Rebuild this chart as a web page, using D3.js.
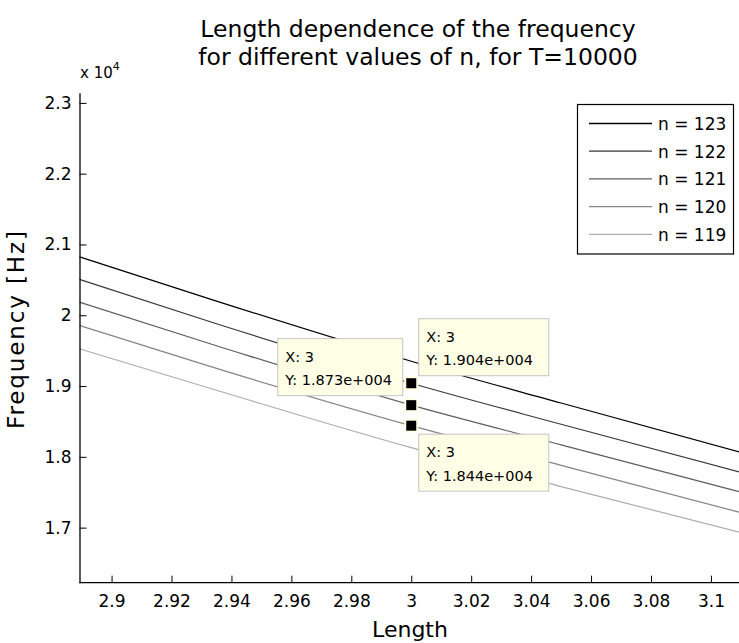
<!DOCTYPE html>
<html>
<head>
<meta charset="utf-8">
<script src="https://cdn.jsdelivr.net/npm/d3@7"></script>
<style>
  body { margin: 0; background: #fff; }
  svg { display: block; }
  text { font-family: "DejaVu Sans", "Liberation Sans", sans-serif; fill: #000; }
</style>
</head>
<body>
<svg id="chart" width="739" height="643"></svg>
<script>
// String length L (x) and frequency in Hz (y) for each mode number n
const lengths  = [2.889, 2.935, 3.0, 3.05, 3.111];
const freqN123 = [20830, 20200, 19350, 18760, 18050];
const freqN122 = [20510, 19880, 19040, 18460, 17770];
const freqN121 = [20190, 19570, 18730, 18170, 17490];
const freqN120 = [19860, 19250, 18440, 17880, 17200];
const freqN119 = [19530, 18940, 18130, 17580, 16920];
const seriesLabels = ["n = 123", "n = 122", "n = 121", "n = 120", "n = 119"];
const seriesColors = ["#000000", "#383838", "#5e5e5e", "#858585", "#adadad"];

const xTickValues = [2.9, 2.92, 2.94, 2.96, 2.98, 3.0, 3.02, 3.04, 3.06, 3.08, 3.1];
const yTickValues = [17000, 18000, 19000, 20000, 21000, 22000, 23000];

// Data cursors placed at L = 3
const tipX = [3, 3, 3];
const tipY = [19040, 18730, 18440];
const tipSide = ["right", "left", "below"];

const series = [freqN123, freqN122, freqN121, freqN120, freqN119].map((vals, i) => ({
  label: seriesLabels[i],
  color: seriesColors[i],
  points: vals.map((v, j) => ({ x: lengths[j], y: v }))
}));

const svg = d3.select("#chart");
const plot = { left: 79.5, right: 743, top: 92.7, bottom: 582.7 };

const x = d3.scaleLinear().domain([2.8893, 3.1107]).range([plot.left, plot.right]);
const y = d3.scaleLinear().domain([16222, 23144]).range([plot.bottom, plot.top]);

svg.append("defs").append("clipPath").attr("id", "plotClip")
  .append("rect")
  .attr("x", plot.left).attr("y", plot.top)
  .attr("width", plot.right - plot.left).attr("height", plot.bottom - plot.top);

// Curves
const line = d3.line().x(d => x(d.x)).y(d => y(d.y)).curve(d3.curveMonotoneX);
svg.append("g").attr("clip-path", "url(#plotClip)")
  .selectAll("path").data(series).join("path")
  .attr("d", d => line(d.points))
  .attr("fill", "none")
  .attr("stroke", d => d.color)
  .attr("stroke-width", 1.2);

// Axes with inward ticks
const xAxis = d3.axisBottom(x).tickValues(xTickValues)
  .tickFormat(d => d3.format("~g")(d))
  .tickSizeInner(-7).tickSizeOuter(0).tickPadding(12);
const gx = svg.append("g").attr("transform", `translate(0,${plot.bottom})`).call(xAxis);

const yAxis = d3.axisLeft(y).tickValues(yTickValues)
  .tickFormat(d => d3.format("~g")(d / 1e4))
  .tickSizeInner(-7).tickSizeOuter(0).tickPadding(8);
const gy = svg.append("g").attr("transform", `translate(${plot.left},0)`).call(yAxis);

[gx, gy].forEach(g => {
  g.selectAll(".domain").attr("stroke", "#000").attr("stroke-width", 1.3);
  g.selectAll(".tick line").attr("stroke", "#000").attr("stroke-width", 1);
  g.selectAll(".tick text").attr("font-size", 17).attr("fill", "#000")
    .attr("font-family", "\"DejaVu Sans\", sans-serif");
});
gx.select(".domain").attr("d", `M${plot.left},0H739`);

// Exponent label above the y axis
const expo = svg.append("text").attr("x", 80).attr("y", 78).attr("font-size", 15);
expo.append("tspan").text("x 10");
expo.append("tspan").attr("dy", -8).attr("font-size", 11).text("4");

// Title
const title = svg.append("text").attr("text-anchor", "middle").attr("font-size", 23.5);
title.append("tspan").attr("x", 418).attr("y", 37).text("Length dependence of the frequency");
title.append("tspan").attr("x", 418).attr("y", 65).text("for different values of n, for T=10000");

// Axis labels
svg.append("text").attr("x", 410).attr("y", 637).attr("text-anchor", "middle")
  .attr("font-size", 22).text("Length");
svg.append("text").attr("transform", "translate(24,330) rotate(-90)")
  .attr("text-anchor", "middle").attr("font-size", 23)
  .attr("textLength", 198).attr("lengthAdjust", "spacing")
  .text("Frequency [Hz]");

// Legend
const legend = svg.append("g");
legend.append("rect").attr("x", 577.5).attr("y", 104.5).attr("width", 156).attr("height", 149.5)
  .attr("fill", "#fff").attr("stroke", "#000").attr("stroke-width", 1.2);
series.forEach((s, i) => {
  const ly = 123.5 + i * 27.7;
  legend.append("line").attr("x1", 589).attr("x2", 652).attr("y1", ly).attr("y2", ly)
    .attr("stroke", s.color).attr("stroke-width", 1.3);
  legend.append("text").attr("x", 658).attr("y", ly + 6.5).attr("font-size", 17).text(s.label);
});

// Data tips
const expFormat = v => d3.format(".3e")(v).replace(/e\+?(\d+)/, (m, e) => "e+" + e.padStart(3, "0"));
const tips = svg.append("g");
tipX.forEach((tx, i) => {
  const px = x(tx), py = y(tipY[i]);
  const w = tipSide[i] === "left" ? 125 : 130, h = 57;
  let bx, by;
  if (tipSide[i] === "right") { bx = px + 7; by = py - 65; }
  else if (tipSide[i] === "left") { bx = px - 134; by = py - 67; }
  else { bx = px + 7; by = py + 8; }
  tips.append("rect").attr("x", bx + 0.5).attr("y", by + 0.5).attr("width", w).attr("height", h)
    .attr("fill", "#ffffe6").attr("stroke", "#c4c4c4").attr("stroke-width", 1);
  tips.append("text").attr("x", bx + 8).attr("y", by + 23.5).attr("font-size", 14.5)
    .text(`X: ${d3.format("~g")(tx)}`);
  tips.append("text").attr("x", bx + 8).attr("y", by + 47).attr("font-size", 14.5)
    .text(`Y: ${expFormat(tipY[i])}`);
  tips.append("rect").attr("x", px - 6).attr("y", py - 6).attr("width", 12).attr("height", 12)
    .attr("fill", "#000").attr("stroke", "#ffffe6").attr("stroke-width", 2);
});
</script>
</body>
</html>
